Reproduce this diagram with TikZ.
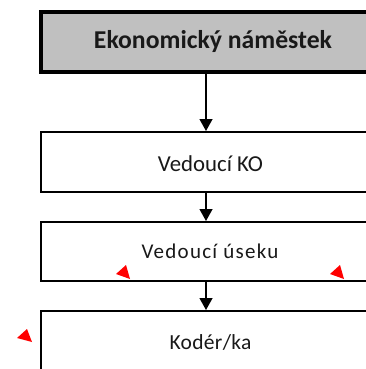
\documentclass[tikz,border=0pt]{standalone}
\usepackage{fontspec}
\setmainfont{Carlito}
\usetikzlibrary{arrows.meta}
\definecolor{boxgray}{RGB}{192,192,192}
\tikzset{
  orgbox/.style={draw=black, line width=2pt, fill=white, minimum width=343pt, inner sep=0pt, anchor=north west},
  topbox/.style={orgbox, fill=boxgray, line width=4pt},
  lbl/.style={anchor=base, inner sep=0pt, text=black!90},
  conn/.style={line width=1.3pt, -{Triangle[length=12pt,width=13pt]}},
  marker/.style={fill=red, draw=none}
}
\begin{document}
\begin{tikzpicture}[x=1pt,y=-1pt]
\useasboundingbox (0,0) rectangle (365,369);
\node[topbox, minimum height=60pt] (b1) at (39.3,10.3) {};
\node[orgbox, minimum height=60pt] (b2) at (40.3,131) {};
\node[orgbox, minimum height=59pt] (b3) at (40.3,221) {};
\node[orgbox, minimum height=60pt] (b4) at (40.3,310) {};
\node[lbl, font=\fontsize{25.7}{30}\selectfont\bfseries] (t1) at (213,48.5) {Ekonomický náměstek};
\node[lbl, font=\fontsize{22.8}{27}\selectfont] (t2) at (210.5,171.7) {Vedoucí KO};
\node[lbl, font=\fontsize{21}{25}\selectfont\addfontfeatures{LetterSpace=6}] (t3) at (210,258.3) {Vedoucí úseku};
\node[lbl, font=\fontsize{21.5}{26}\selectfont\addfontfeatures{LetterSpace=1.5}] (t4) at (210.5,349) {Kodér/ka};
\coordinate (a1s) at (206,72);
\draw[conn] (a1s) -- (a1s |- b2.north);
\coordinate (a2s) at (206,192);
\draw[conn] (a2s) -- (a2s |- b3.north);
\coordinate (a3s) at (206,281);
\draw[conn] (a3s) -- (a3s |- b4.north);
\fill[marker] (116,274) -- (126,265) -- (130,279) -- cycle;
\fill[marker] (330,274) -- (340,265) -- (344,279) -- cycle;
\fill[marker] (17,338) -- (27,329) -- (32,342) -- cycle;
\end{tikzpicture}
\end{document}
